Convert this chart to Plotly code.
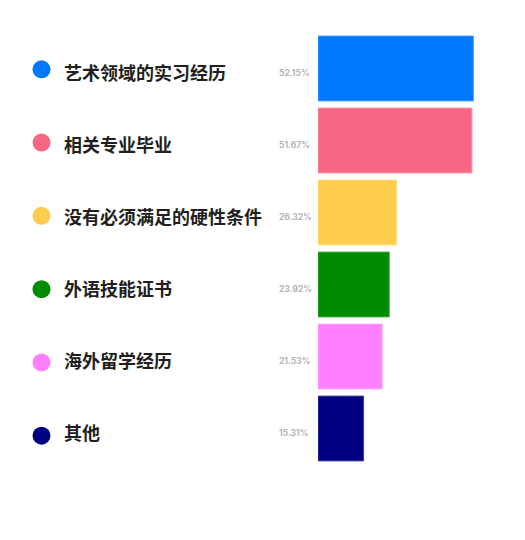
import plotly.graph_objects as go

categories = ["艺术领域的实习经历", "相关专业毕业", "没有必须满足的硬性条件",
              "外语技能证书", "海外留学经历", "其他"]
values = [52.15, 51.67, 26.32, 23.92, 21.53, 15.31]
colors = ["#0078FF", "#F76682", "#FFCC4D", "#008C00", "#FF80FF", "#000080"]
edge_colors = ["#3D96FF", "#F98FA2", "#FFDA80", "#3FA83F", "#FFA3FF", "#4040A0"]
pct_labels = [f"{v:.2f}%" for v in values]

W, H = 525, 540
off = 8  # page body margin
bar_left, bar_right = 318 - off, 505 - off
px_per_pct = 2.978
plot_top, plot_bottom = 32.5 - off, 464.5 - off
label_shift = 4  # labels sit a little below bar centres

fig = go.Figure()

# bars
fig.add_trace(go.Bar(
    x=values, y=categories, orientation="h",
    marker=dict(color=colors, line=dict(color=edge_colors, width=1)),
    width=0.9, hoverinfo="skip", showlegend=False,
    xaxis="x", yaxis="y",
))

# coloured dots in the label column
fig.add_trace(go.Scatter(
    x=[41.5 - off] * len(categories), y=categories, mode="markers",
    marker=dict(color=colors, size=18, line=dict(width=0)),
    hoverinfo="skip", showlegend=False,
    xaxis="x2", yaxis="y2",
))

annotations = []
for cat, pct in zip(categories, pct_labels):
    annotations.append(dict(
        x=62 - off, y=cat, xref="x2", yref="y", text=cat, showarrow=False,
        xanchor="left", yanchor="middle", yshift=-3.5,
        font=dict(family="Noto Sans CJK SC", size=18, color="#231F20", weight="bold"),
    ))
    annotations.append(dict(
        x=277 - off, y=cat, xref="x2", yref="y", text=pct, showarrow=False,
        xanchor="left", yanchor="middle", yshift=-4,
        font=dict(family="Inter", size=8.5, color="#B4B4B4", weight="bold"),
    ))

cat_axis = dict(categoryorder="array", categoryarray=categories,
                autorange="reversed", visible=False, fixedrange=True)

fig.update_layout(
    width=W, height=H,
    margin=dict(l=0, r=0, t=0, b=0),
    paper_bgcolor="white", plot_bgcolor="white",
    bargap=0.1,
    xaxis=dict(domain=[bar_left / W, bar_right / W],
               range=[0, (bar_right - bar_left) / px_per_pct],
               visible=False, fixedrange=True),
    xaxis2=dict(domain=[0, (278 - off) / W], range=[0, 278 - off], anchor="y2",
                visible=False, fixedrange=True),
    yaxis=dict(domain=[1 - plot_bottom / H, 1 - plot_top / H], **cat_axis),
    yaxis2=dict(domain=[1 - (plot_bottom + label_shift) / H,
                        1 - (plot_top + label_shift) / H],
                anchor="x2", **cat_axis),
    annotations=annotations,
)

fig.write_html("out.html")
